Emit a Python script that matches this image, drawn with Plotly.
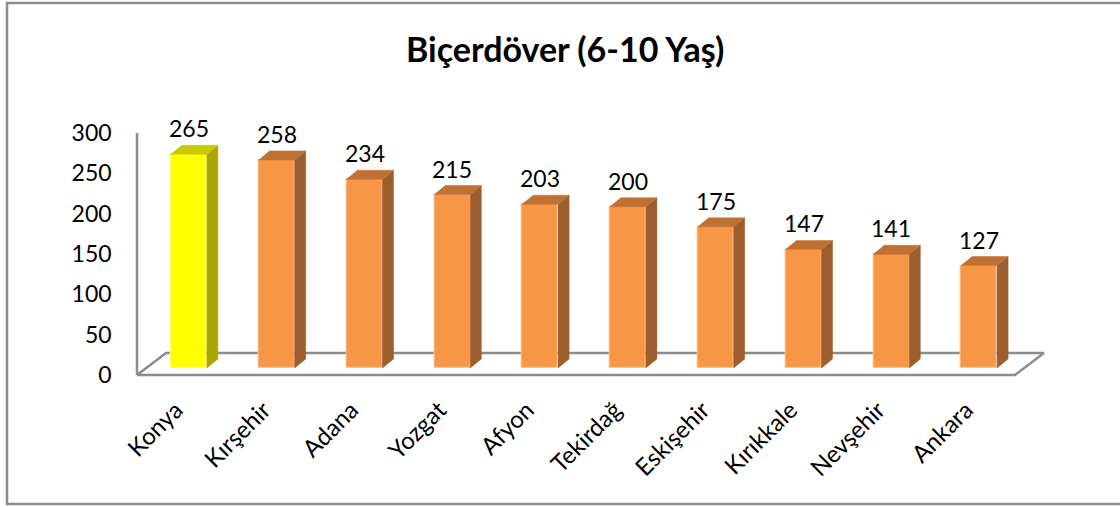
import plotly.graph_objects as go

# ---- data ----
categories = ["Konya", "Kırşehir", "Adana", "Yozgat", "Afyon", "Tekirdağ",
              "Eskişehir", "Kırıkkale", "Nevşehir", "Ankara"]
values = [265, 258, 234, 215, 203, 200, 175, 147, 141, 127]
highlight = ["Konya"]
y_ticks = [0, 50, 100, 150, 200, 250, 300]
title_text = "Biçerdöver (6-10 Yaş)"

# ---- styling / geometry ----
W, H = 1120, 507
PX = 87.8          # pixels per category
K = 242 / 300      # pixels per value unit
X_LEFT_PX = 137    # pixel of category edge -0.5 (front plane)
Y0_PX = 375        # pixel of value 0 (front plane)
FONT = "Lato"
LABEL_SHIFT = 5 / PX

XA, XB = -0.55, 9.5 + 29 / PX + 0.08
YA, YB = -4, 304

def fx(px):
    return px / W

def fy(py):
    return 1 - py / H

x_dom = [fx(X_LEFT_PX + (XA + 0.5) * PX), fx(X_LEFT_PX + (XB + 0.5) * PX)]
y_dom = [fy(Y0_PX - YA * K), fy(Y0_PX - YB * K)]

BOX, BOY = 8, 7
DDX, DDY = 11 / PX, 9 / K
BW = 36 / PX
FDX, FDY = 29 / PX, 22 / K

front_cols = ["#FFFF00" if c in highlight else "#F79646" for c in categories]
side_cols = ["#A8A800" if c in highlight else "#9B5E2C" for c in categories]
top_cols = ["#C9C900" if c in highlight else "#BF7134" for c in categories]
edge_cols = ["#FFFF80" if c in highlight else "#FAC090" for c in categories]

fig = go.Figure()

n = len(categories)
floor_x = [-0.5, n - 0.5, n - 0.5 + FDX, -0.5 + FDX, -0.5]
floor_y = [0, 0, FDY, FDY, 0]
fig.add_trace(go.Scatter(x=floor_x, y=floor_y, mode="lines",
                         line=dict(color="#8C8C8C", width=2.5),
                         hoverinfo="skip", showlegend=False,
                         xaxis="x", yaxis="y"))
fig.add_trace(go.Scatter(x=[-0.5, -0.5], y=[0, y_ticks[-1]], mode="lines",
                         line=dict(color="#8C8C8C", width=2.5),
                         hoverinfo="skip", showlegend=False,
                         xaxis="x", yaxis="y"))

xs = list(range(n))
fig.add_trace(go.Bar(x=xs, y=values, width=BW,
                     marker=dict(color=front_cols,
                                 line=dict(color=edge_cols, width=1)),
                     hoverinfo="skip", showlegend=False,
                     xaxis="x2", yaxis="y2"))

for i, v in enumerate(values):
    r = i + BW / 2
    l = i - BW / 2
    fig.add_trace(go.Scatter(
        x=[r, r + DDX, r + DDX, r, r], y=[0, DDY, v + DDY, v, 0],
        mode="lines", fill="toself", fillcolor=side_cols[i],
        line=dict(color=side_cols[i], width=0.5),
        hoverinfo="skip", showlegend=False, xaxis="x2", yaxis="y2"))
    fig.add_trace(go.Scatter(
        x=[l, r, r + DDX, l + DDX, l], y=[v, v, v + DDY, v + DDY, v],
        mode="lines", fill="toself", fillcolor=top_cols[i],
        line=dict(color=top_cols[i], width=0.5),
        hoverinfo="skip", showlegend=False, xaxis="x2", yaxis="y2"))
    fig.add_annotation(x=i, y=v, xref="x2", yref="y2", text=str(v),
                       showarrow=False, yshift=26, yanchor="middle",
                       font=dict(family=FONT, size=23, color="#000000"))

fig.add_annotation(x=fx(565), y=fy(48), xref="paper", yref="paper",
                   text="<b>" + title_text + "</b>", showarrow=False,
                   xanchor="center", yanchor="middle",
                   font=dict(family=FONT, size=34, color="#000000"))

fig.add_shape(type="rect", xref="paper", yref="paper",
              x0=fx(7), x1=fx(1126), y0=fy(504), y1=fy(3),
              line=dict(color="#8C8C8C", width=2.5))

fig.update_layout(
    template="none",
    width=W, height=H, margin=dict(l=0, r=0, t=0, b=0, pad=0),
    autosize=False,
    paper_bgcolor="white", plot_bgcolor="rgba(0,0,0,0)",
    xaxis=dict(domain=x_dom, range=[XA, XB], tickmode="array",
               tickvals=[i - LABEL_SHIFT for i in xs], ticktext=categories,
               tickangle=-45,
               showgrid=False, zeroline=False, showline=False, ticks="",
               ticklabelstandoff=12, automargin=False,
               tickfont=dict(family=FONT, size=24, color="#000000")),
    yaxis=dict(domain=y_dom, range=[YA, YB], tickmode="array",
               tickvals=y_ticks, showgrid=False, zeroline=False,
               showline=False, ticks="", ticklabelstandoff=20,
               automargin=False,
               tickfont=dict(family=FONT, size=23, color="#000000")),
    xaxis2=dict(domain=x_dom, range=[XA - BOX / PX, XB - BOX / PX],
                overlaying="x", visible=False),
    yaxis2=dict(domain=y_dom, range=[YA - BOY / K, YB - BOY / K],
                overlaying="y", visible=False),
    bargap=0,
)

fig.write_html("out.html",
               config={"responsive": False, "displayModeBar": False},
               post_script="document.body.style.margin='0';")
